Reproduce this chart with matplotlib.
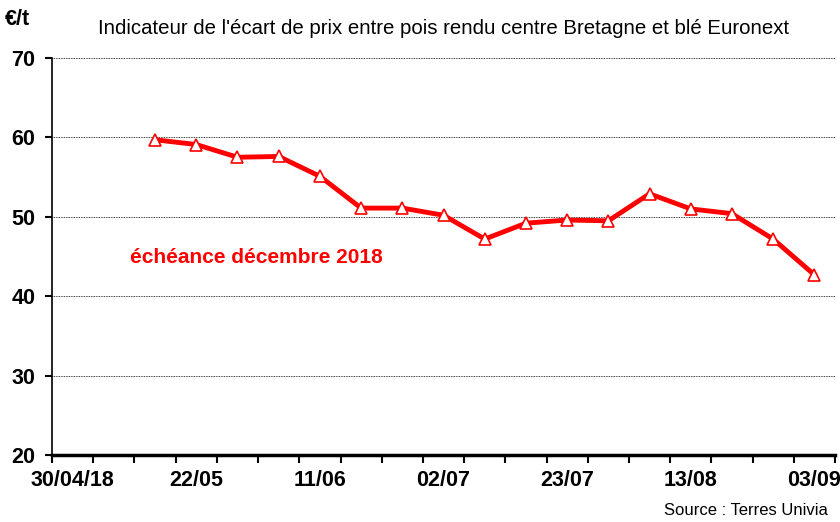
import matplotlib
matplotlib.use("Agg")
import matplotlib.pyplot as plt
import pandas as pd

plt.rcParams['font.family'] = ['Liberation Sans', 'DejaVu Sans']

# Données (hebdomadaires, échéance décembre 2018)
dates = ['2018-05-14', '2018-05-21', '2018-05-28', '2018-06-04', '2018-06-11',
         '2018-06-18', '2018-06-25', '2018-07-02', '2018-07-09', '2018-07-16',
         '2018-07-23', '2018-07-30', '2018-08-06', '2018-08-13', '2018-08-20',
         '2018-08-27', '2018-09-03']
ecart = [59.7, 59.1, 57.5, 57.6, 55.1, 51.1, 51.1, 50.2, 47.2, 49.2,
         49.6, 49.5, 52.9, 51.0, 50.4, 47.2, 42.7]

tick_dates = ['2018-04-30', '2018-05-21', '2018-06-11', '2018-07-02',
              '2018-07-23', '2018-08-13', '2018-09-03']
tick_labels = ['30/04/18', '22/05', '11/06', '02/07', '23/07', '13/08', '03/09']

x = pd.to_datetime(dates)
half_week = pd.Timedelta(days=3.5)
start = pd.Timestamp('2018-04-30')
end = pd.Timestamp('2018-09-03')

fig = plt.figure(figsize=(8.4, 5.22), dpi=100)
ax = fig.add_axes([0.062, 0.128, 0.932, 0.761])

ax.plot(x, ecart, color='#ff0000', linewidth=3.5, marker='^', markersize=8.5,
        markerfacecolor='white', markeredgecolor='#ff0000', markeredgewidth=1.2,
        zorder=3)

ax.set_ylim(20, 70)
ax.set_yticks([20, 30, 40, 50, 60, 70])
ax.yaxis.grid(True, color='black', linestyle=(0, (1, 1)), linewidth=0.6)
ax.set_axisbelow(True)

ax.set_xlim(start - half_week, end + half_week)
ax.set_xticks(pd.to_datetime(tick_dates))
ax.set_xticklabels(tick_labels)
minor = pd.date_range(start - half_week, end + half_week, freq='7D')
ax.set_xticks(minor, minor=True)
ax.tick_params(axis='x', which='major', length=0, pad=11)
ax.tick_params(axis='x', which='minor', length=6, width=1.5, direction='out')
ax.tick_params(axis='y', length=5, width=1.5, direction='out', pad=7)

for lab in ax.get_xticklabels() + ax.get_yticklabels():
    lab.set_fontweight('bold')
    lab.set_fontsize(15.5)

ax.spines['top'].set_visible(False)
ax.spines['right'].set_visible(False)
ax.spines['left'].set_linewidth(1.2)
ax.spines['bottom'].set_linewidth(2.5)

ax.text(0.10, 0.497, "échéance décembre 2018", transform=ax.transAxes,
        color='#ff0000', fontsize=15, fontweight='bold', va='center')

fig.text(0.528, 0.946, "Indicateur de l'écart de prix entre pois rendu centre Bretagne et blé Euronext",
         ha='center', va='center', fontsize=14.7)
fig.text(0.006, 0.962, "€/t", ha='left', va='center', fontsize=15.5, fontweight='bold')
fig.text(0.986, 0.022, "Source : Terres Univia", ha='right', va='center', fontsize=12)

plt.savefig("out.png", dpi=100)
